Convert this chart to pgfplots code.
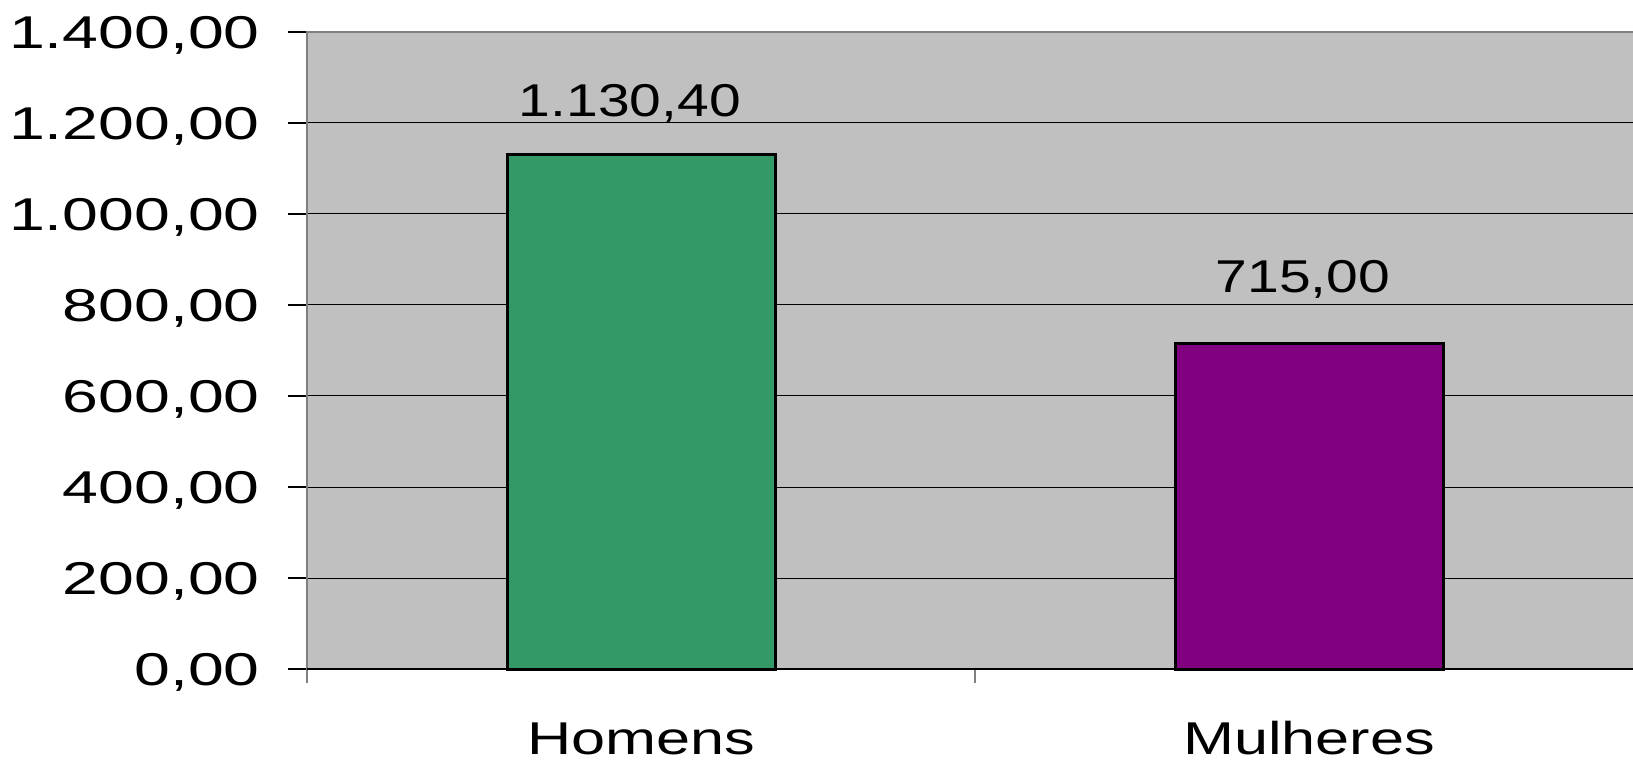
\documentclass[border=0pt]{standalone}
\usepackage{pgfplots}
\pgfplotsset{compat=1.18}
\usepackage{fontspec}
\setmainfont{Liberation Sans}
\newfontfamily\tickfont[FakeStretch=1.40]{Liberation Sans}
\newfontfamily\labfont[FakeStretch=1.24]{Liberation Sans}
\newfontfamily\catfont[FakeStretch=1.33]{Liberation Sans}
\definecolor{bggray}{HTML}{C0C0C0}
\definecolor{framegray}{HTML}{808080}
\definecolor{bargreen}{HTML}{339966}
\definecolor{barpurple}{HTML}{800080}
\begin{document}
\begin{tikzpicture}
\begin{axis}[
  scale only axis, width=1330pt, height=637pt,
  xmin=-0.5, xmax=1.491, ymin=0, ymax=1400,
  axis background/.style={fill=bggray},
  axis line style={draw=framegray, line width=2.5pt},
  ytick={0,200,...,1400},
  ymajorgrids, grid style={black, line width=1pt},
  tick align=outside, ytick pos=left, xtick pos=bottom,
  major tick length=19pt,
  xtick={0,1}, xticklabels={Homens,Mulheres},
  major x tick style={draw=none},
  minor xtick={-0.5,0.5},
  minor tick length=14pt,
  minor x tick style={framegray, line width=1.5pt},
  y tick style={black, line width=1.2pt},
  yticklabel style={font=\tickfont\fontsize{46}{55}\selectfont, anchor=base east, inner sep=0pt, xshift=-28pt, yshift=-16.5pt},
  xticklabel style={font=\catfont\fontsize{46}{55}\selectfont, anchor=base, inner sep=0pt, yshift=-66pt},
  /pgf/number format/.cd, use comma, 1000 sep={.}, fixed, fixed zerofill, precision=2, assume math mode=true, /pgfplots/.cd,
  clip=false,
]
\addplot[ybar, bar width=268pt, bar shift=0pt, fill=bargreen, draw=black, line width=3pt,
  nodes near coords,
  every node near coord/.append style={anchor=base, inner sep=0pt, font=\labfont\fontsize{46}{55}\selectfont, xshift=-11pt, yshift=38pt, black}]
  coordinates {(0,1130.4)};
\addplot[ybar, bar width=268pt, bar shift=0pt, fill=barpurple, draw=black, line width=3pt,
  nodes near coords,
  every node near coord/.append style={anchor=base, inner sep=0pt, font=\labfont\fontsize{46}{55}\selectfont, xshift=-6pt, yshift=51pt, black}]
  coordinates {(1,715)};
\draw[black, line width=2pt] (rel axis cs:0,0) -- (rel axis cs:1,0);
\coordinate (bl) at (rel axis cs:0,0);
\coordinate (tr) at (rel axis cs:1,1);
\end{axis}
\pgfresetboundingbox
\path ([xshift=-307pt,yshift=-91pt]bl) rectangle ([xshift=-4pt,yshift=32pt]tr);
\end{tikzpicture}
\end{document}
